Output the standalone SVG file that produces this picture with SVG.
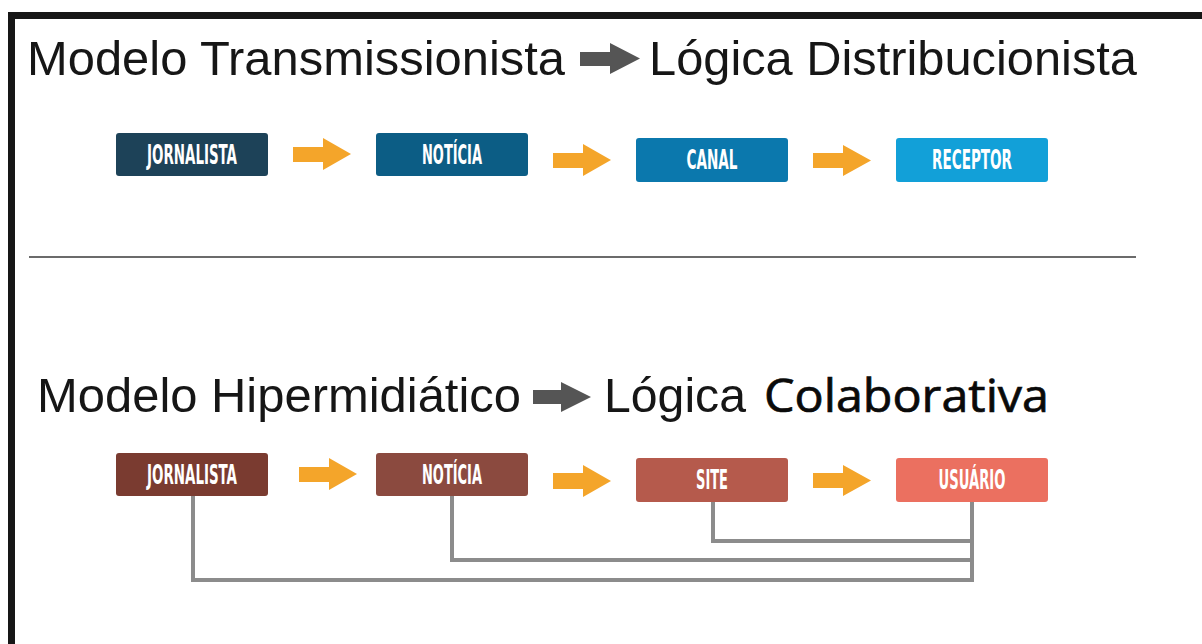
<svg xmlns="http://www.w3.org/2000/svg" width="1202" height="644" viewBox="0 0 1202 644">
<style>
.title{font-family:"Liberation Sans",Arial,sans-serif;font-size:48.5px;fill:#161616}
.title2{font-family:"Open Sans","Noto Sans",sans-serif;font-weight:400;font-size:45px;fill:#0a0a0a;stroke:#0a0a0a;stroke-width:0.7px}
.lbl{font-family:"Liberation Sans Narrow","DejaVu Sans Condensed","Liberation Sans",sans-serif;font-weight:bold;font-size:27px;fill:#fff;text-anchor:middle}
.conn{fill:none;stroke:#8c8c8c;stroke-width:4}
.oarr{fill:#f4a52a}
.garr{fill:#555}
</style>
<rect x="0" y="0" width="1202" height="644" fill="#fff"/>
<rect x="8" y="12" width="1194" height="7" fill="#161616"/>
<rect x="8" y="12" width="7" height="632" fill="#161616"/>
<line x1="29" y1="257" x2="1136" y2="257" stroke="#3a3a3a" stroke-width="1.6"/>

<g id="title1">
<text class="title" x="27" y="75" textLength="538" lengthAdjust="spacingAndGlyphs">Modelo Transmissionista</text>
<path class="garr" d="M580,52 H610 V43 L640,58.5 L610,74 V66 H580 Z"/>
<text class="title" x="649" y="75" textLength="488" lengthAdjust="spacingAndGlyphs">Lógica Distribucionista</text>
</g>

<g id="title2">
<text class="title" x="37" y="412" textLength="484" lengthAdjust="spacingAndGlyphs">Modelo Hipermidiático</text>
<path class="garr" d="M533,390 H561 V382 L591,397 L561,412 V404 H533 Z"/>
<text class="title" x="604" y="412" textLength="142" lengthAdjust="spacingAndGlyphs">Lógica</text>
<text class="title2" x="764" y="412" textLength="285" lengthAdjust="spacingAndGlyphs">Colaborativa</text>
</g>

<g id="connectors">
<path class="conn" d="M193,496 V580 H972"/>
<path class="conn" d="M452,496 V560 H972"/>
<path class="conn" d="M713,502 V541 H972"/>
<path class="conn" d="M972,502 V582"/>
<path class="oarr" d="M293,147 H323 V138 L351,154 L323,170 V162 H293 Z"/>
<path class="oarr" d="M553,153 H583 V144 L611,160 L583,176 V168 H553 Z"/>
<path class="oarr" d="M813,153 H843 V145 L871,160.5 L843,176 V168 H813 Z"/>
<path class="oarr" d="M299,467 H329 V458 L357,474 L329,490 V482 H299 Z"/>
<path class="oarr" d="M553,473 H583 V465 L611,481 L583,497 V489 H553 Z"/>
<path class="oarr" d="M813,473 H843 V465 L871,480.5 L843,496 V488 H813 Z"/>
</g>

<g id="n1-jornalista"><rect x="116" y="133" width="152" height="43" rx="3" fill="#1d4258"/><text class="lbl" x="192" y="164" textLength="90" lengthAdjust="spacingAndGlyphs">JORNALISTA</text></g>
<g id="n1-noticia"><rect x="376" y="133" width="152" height="43" rx="3" fill="#0c5d85"/><text class="lbl" x="452" y="164" textLength="60" lengthAdjust="spacingAndGlyphs">NOTÍCIA</text></g>
<g id="n1-canal"><rect x="636" y="138" width="152" height="44" rx="3" fill="#0b78ad"/><text class="lbl" x="712" y="169" textLength="51" lengthAdjust="spacingAndGlyphs">CANAL</text></g>
<g id="n1-receptor"><rect x="896" y="138" width="152" height="44" rx="3" fill="#12a0d8"/><text class="lbl" x="972" y="169" textLength="80" lengthAdjust="spacingAndGlyphs">RECEPTOR</text></g>

<g id="n2-jornalista"><rect x="116" y="453" width="152" height="43" rx="3" fill="#7a3b30"/><text class="lbl" x="192" y="484" textLength="90" lengthAdjust="spacingAndGlyphs">JORNALISTA</text></g>
<g id="n2-noticia"><rect x="376" y="453" width="152" height="43" rx="3" fill="#8b4a3f"/><text class="lbl" x="452" y="484" textLength="60" lengthAdjust="spacingAndGlyphs">NOTÍCIA</text></g>
<g id="n2-site"><rect x="636" y="458" width="152" height="44" rx="3" fill="#b55a4c"/><text class="lbl" x="712" y="489" textLength="32" lengthAdjust="spacingAndGlyphs">SITE</text></g>
<g id="n2-usuario"><rect x="896" y="458" width="152" height="44" rx="3" fill="#eb7060"/><text class="lbl" x="972" y="489" textLength="67" lengthAdjust="spacingAndGlyphs">USUÁRIO</text></g>
</svg>
